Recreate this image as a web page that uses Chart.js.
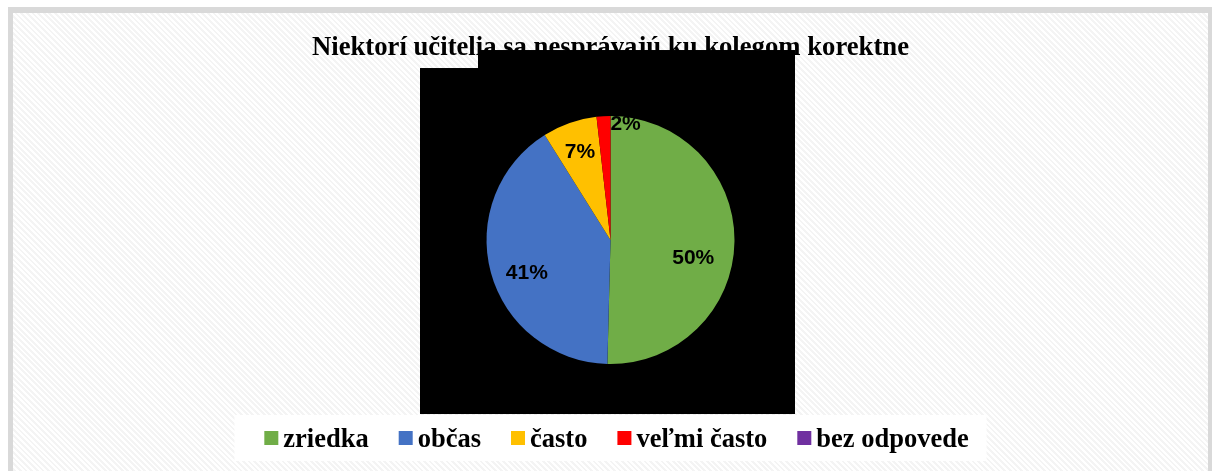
<!DOCTYPE html>
<html>
<head>
<meta charset="utf-8">
<script src="https://cdn.jsdelivr.net/npm/chart.js@4"></script>
<style>
  body { margin: 0; background: #fff; }
  .frame {
    position: absolute; left: 8px; top: 7px;
    width: 1195px; height: 460px;
    border: 5px solid #d9d9d9; border-top-width: 6px;
    background: repeating-linear-gradient(45deg, #ffffff 0 2px, #f4f4f4 2px 4px);
  }
  .box { position: relative; width: 1195px; height: 458px; }
</style>
</head>
<body>
<div class="frame"><div class="box"><canvas id="pie"></canvas></div></div>
<script>
// chart data
const chartTitle = 'Niektorí učitelia sa nesprávajú ku kolegom korektne';
const categories = ['zriedka', 'občas', 'často', 'veľmi často', 'bez odpovede'];
const shares = [50.4, 40.7, 7.1, 1.8, 0];
const colors = ['#70AD47', '#4472C4', '#FFC000', '#FF0000', '#7030A0'];

// black box covering part of the chart (as in the scan)
const redaction = {
  id: 'redaction',
  beforeDatasetsDraw(chart, args, opts) {
    const a = chart.chartArea;
    const cx = (a.left + a.right) / 2, cy = (a.top + a.bottom) / 2;
    const ctx = chart.ctx;
    ctx.save();
    ctx.fillStyle = '#000';
    opts.blocks.forEach(b => ctx.fillRect(cx + b.x, cy + b.y, b.w, b.h));
    ctx.restore();
  }
};

// percentage labels on the slices
const sliceLabels = {
  id: 'sliceLabels',
  afterDatasetsDraw(chart, args, opts) {
    const ctx = chart.ctx;
    const meta = chart.getDatasetMeta(0);
    ctx.save();
    ctx.font = opts.font;
    ctx.fillStyle = '#000';
    ctx.textAlign = 'center';
    ctx.textBaseline = 'middle';
    meta.data.forEach((arc, i) => {
      const v = shares[i];
      if (!v) return;
      const mid = (arc.startAngle + arc.endAngle) / 2;
      const r = arc.outerRadius * 0.7;
      const n = opts.nudge[i] || [0, 0];
      ctx.fillText(Math.round(v) + '%', arc.x + Math.cos(mid) * r + n[0], arc.y + Math.sin(mid) * r + n[1]);
    });
    ctx.restore();
  }
};

// legend on a white strip below the pie
const bottomLegend = {
  id: 'bottomLegend',
  afterDraw(chart, args, opts) {
    const ctx = chart.ctx;
    const a = chart.chartArea;
    const cx = (a.left + a.right) / 2;
    const rowY = a.bottom + opts.offsetY;
    ctx.save();
    ctx.fillStyle = '#fff';
    ctx.fillRect(cx - opts.boxWidth / 2, rowY - opts.boxHeight / 2, opts.boxWidth, opts.boxHeight);
    ctx.font = opts.font;
    const widths = categories.map(c => ctx.measureText(c).width);
    const total = widths.reduce((s, w) => s + opts.marker + opts.gap + w, 0) + opts.spacing * (categories.length - 1);
    let x = cx - total / 2 + opts.shiftX;
    categories.forEach((c, i) => {
      ctx.fillStyle = colors[i];
      ctx.fillRect(x, rowY - opts.marker / 2, opts.marker, opts.marker);
      ctx.fillStyle = '#000';
      ctx.textBaseline = 'alphabetic';
      ctx.fillText(c, x + opts.marker + opts.gap, rowY + 9);
      x += opts.marker + opts.gap + widths[i] + opts.spacing;
    });
    ctx.restore();
  }
};

new Chart(document.getElementById('pie'), {
  type: 'pie',
  data: {
    labels: categories,
    datasets: [{
      data: shares,
      backgroundColor: colors,
      borderWidth: 0
    }]
  },
  options: {
    responsive: true,
    maintainAspectRatio: false,
    animation: false,
    layout: { padding: { top: 0, bottom: 107, left: 0, right: 0 } },
    plugins: {
      title: {
        display: true,
        text: chartTitle,
        color: '#000',
        font: { family: 'Liberation Serif', size: 26.7, weight: 'bold' },
        padding: { top: 19, bottom: 52 }
      },
      legend: { display: false },
      tooltip: { enabled: false },
      redaction: {
        blocks: [
          { x: -190.5, y: -172, w: 58, h: 346 },
          { x: -132.5, y: -190, w: 317, h: 364 }
        ]
      },
      sliceLabels: {
        font: 'bold 21px "Liberation Sans"',
        nudge: [[-4, 17], [0, 10], [-2, -6], [20, -29]]
      },
      bottomLegend: {
        font: 'bold 26.5px "Liberation Serif"',
        marker: 14, gap: 5, spacing: 30,
        shiftX: 6,
        offsetY: 74, boxWidth: 752, boxHeight: 46
      }
    }
  },
  plugins: [redaction, sliceLabels, bottomLegend]
});
</script>
</body>
</html>
